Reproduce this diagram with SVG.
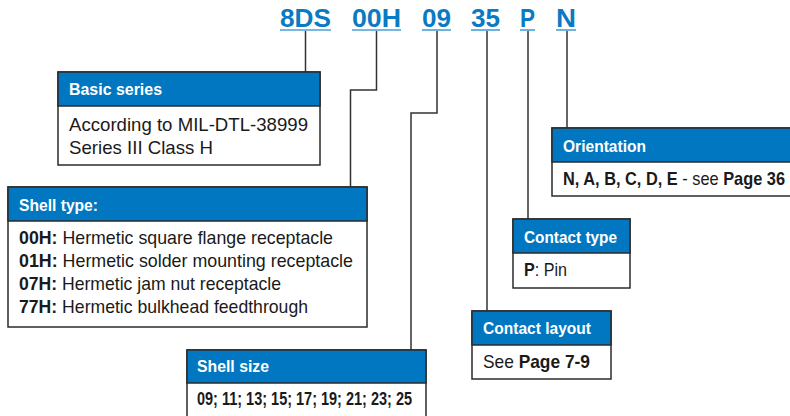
<svg xmlns="http://www.w3.org/2000/svg" width="790" height="416" viewBox="0 0 790 416">
<style>
.code{font-family:"Liberation Sans",Arial,sans-serif;font-weight:bold;font-size:26px;fill:#0a7bc2}
.ul{stroke:#4a9fd8;stroke-width:1.6}
.box{fill:#fff;stroke:#2b2b2b;stroke-width:1.5}
.hdr{fill:#0077c0;stroke:#2b2b2b;stroke-width:1.5}
.ht{font-family:"Liberation Sans",Arial,sans-serif;font-weight:bold;font-size:16.5px;fill:#fff}
.bt{font-family:"Liberation Sans",Arial,sans-serif;font-size:18.5px;fill:#1a1a1a}
.b{font-weight:bold}
.conn{fill:none;stroke:#333;stroke-width:1.5}
</style>
<g id="codes">
<text class="code" x="280" y="27" textLength="51" lengthAdjust="spacingAndGlyphs">8DS</text>
<text class="code" x="352" y="27" textLength="49" lengthAdjust="spacingAndGlyphs">00H</text>
<text class="code" x="422" y="27" textLength="29" lengthAdjust="spacingAndGlyphs">09</text>
<text class="code" x="471" y="27" textLength="29" lengthAdjust="spacingAndGlyphs">35</text>
<text class="code" x="520" y="27" textLength="15" lengthAdjust="spacingAndGlyphs">P</text>
<text class="code" x="556" y="27" textLength="20" lengthAdjust="spacingAndGlyphs">N</text>
<line class="ul" x1="280" y1="30" x2="331" y2="30"/>
<line class="ul" x1="352" y1="30" x2="401" y2="30"/>
<line class="ul" x1="422" y1="30" x2="451" y2="30"/>
<line class="ul" x1="471" y1="30" x2="500" y2="30"/>
<line class="ul" x1="520" y1="30" x2="535" y2="30"/>
<line class="ul" x1="556" y1="30" x2="576" y2="30"/>
</g>
<g id="connectors">
<path class="conn" d="M305.5 31V72"/>
<path class="conn" d="M376.5 31V90H350.5V187"/>
<path class="conn" d="M437 31V113H411V350"/>
<path class="conn" d="M487 31V311"/>
<path class="conn" d="M528 31V219"/>
<path class="conn" d="M567 31V128"/>
</g>
<g id="basic-series">
<rect class="box" x="58" y="72" width="262" height="93"/>
<rect class="hdr" x="58" y="72" width="262" height="34"/>
<text class="ht" x="69" y="95" textLength="93" lengthAdjust="spacingAndGlyphs">Basic series</text>
<text class="bt" x="69" y="131" textLength="239" lengthAdjust="spacingAndGlyphs">According to MIL-DTL-38999</text>
<text class="bt" x="69" y="154" textLength="144" lengthAdjust="spacingAndGlyphs">Series III Class H</text>
</g>
<g id="shell-type">
<rect class="box" x="8" y="187" width="359" height="140"/>
<rect class="hdr" x="8" y="187" width="359" height="34"/>
<text class="ht" x="19" y="211" textLength="79" lengthAdjust="spacingAndGlyphs">Shell type:</text>
<text class="bt" x="19" y="244" textLength="314" lengthAdjust="spacingAndGlyphs"><tspan class="b">00H:</tspan> Hermetic square flange receptacle</text>
<text class="bt" x="19" y="267" textLength="334" lengthAdjust="spacingAndGlyphs"><tspan class="b">01H:</tspan> Hermetic solder mounting receptacle</text>
<text class="bt" x="19" y="290" textLength="262" lengthAdjust="spacingAndGlyphs"><tspan class="b">07H:</tspan> Hermetic jam nut receptacle</text>
<text class="bt" x="19" y="313" textLength="289" lengthAdjust="spacingAndGlyphs"><tspan class="b">77H:</tspan> Hermetic bulkhead feedthrough</text>
</g>
<g id="shell-size">
<rect class="box" x="187" y="350" width="239" height="70"/>
<rect class="hdr" x="187" y="350" width="239" height="33"/>
<text class="ht" x="197" y="372" textLength="72" lengthAdjust="spacingAndGlyphs">Shell size</text>
<text class="bt b" x="197" y="405" textLength="215" lengthAdjust="spacingAndGlyphs">09; 11; 13; 15; 17; 19; 21; 23; 25</text>
</g>
<g id="contact-layout">
<rect class="box" x="472" y="311" width="139" height="68"/>
<rect class="hdr" x="472" y="311" width="139" height="34"/>
<text class="ht" x="483" y="334" textLength="108" lengthAdjust="spacingAndGlyphs">Contact layout</text>
<text class="bt" x="483" y="368" textLength="107" lengthAdjust="spacingAndGlyphs">See <tspan class="b">Page 7-9</tspan></text>
</g>
<g id="contact-type">
<rect class="box" x="513" y="219" width="117" height="69"/>
<rect class="hdr" x="513" y="219" width="117" height="34"/>
<text class="ht" x="524" y="243" textLength="93" lengthAdjust="spacingAndGlyphs">Contact type</text>
<text class="bt" x="524" y="276" textLength="43" lengthAdjust="spacingAndGlyphs"><tspan class="b">P</tspan>: Pin</text>
</g>
<g id="orientation">
<rect class="box" x="552" y="128" width="242" height="68"/>
<rect class="hdr" x="552" y="128" width="242" height="34"/>
<text class="ht" x="563" y="152" textLength="83" lengthAdjust="spacingAndGlyphs">Orientation</text>
<text class="bt" x="563" y="185" textLength="222" lengthAdjust="spacingAndGlyphs"><tspan class="b">N, A, B, C, D, E</tspan> - see <tspan class="b">Page 36</tspan></text>
</g>
</svg>
